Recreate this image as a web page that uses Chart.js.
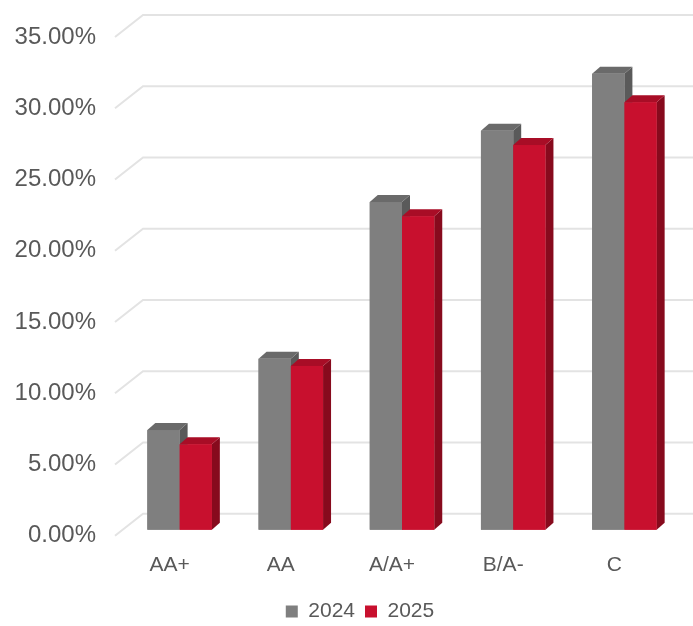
<!DOCTYPE html>
<html>
<head>
<meta charset="utf-8">
<script src="https://cdn.jsdelivr.net/npm/chart.js@4.4.1/dist/chart.umd.min.js"></script>
<style>
  html, body { margin: 0; padding: 0; background: #fff; }
  #wrap { width: 693px; height: 626px; }
</style>
</head>
<body>
<div id="wrap"><canvas id="ratingChart"></canvas></div>
<script>
// Datos del gráfico
const categories = ['AA+', 'AA', 'A/A+', 'B/A-', 'C'];
const values2024 = [7, 12, 23, 28, 32];
const values2025 = [6, 11.5, 22, 27, 30];
const yTicks = [0, 5, 10, 15, 20, 25, 30, 35];

// Colores de las caras (frente, arriba, lado)
const faces = [
    { front: '#7f7f7f', top: '#6a6a6a', side: '#5a5a5a' },
    { front: '#c8102e', top: '#a80d26', side: '#870a1d' }
];
const depth = { dx: 8, dy: 7 };      // profundidad de las barras
const wall = { dx: 19, dy: 16 };     // pared del fondo
const front = { dx: -9, dy: -6 };    // plano de las etiquetas

// Pared de fondo con líneas de cuadrícula en perspectiva + caras 3D
const wallGrid = {
    id: 'wallGrid',
    afterLayout(chart) {
        // la leyenda está un poco a la derecha y abajo en el original
        chart.legend.left += 20;
        chart.legend.right += 20;
        chart.legend.top += 6;
        chart.legend.bottom += 6;
    },
    beforeDatasetsDraw(chart) {
        const { ctx, chartArea, scales } = chart;
        ctx.save();
        ctx.strokeStyle = '#e3e3e3';
        ctx.lineWidth = 2;
        yTicks.forEach(v => {
            const y = scales.y.getPixelForValue(v);
            ctx.beginPath();
            ctx.moveTo(chartArea.left + front.dx, y - front.dy);
            ctx.lineTo(chartArea.left + wall.dx, y - wall.dy);
            ctx.lineTo(chart.width, y - wall.dy);
            ctx.stroke();
        });
        ctx.restore();
    },
    afterDatasetsDraw(chart) {
        const { ctx } = chart;
        ctx.save();
        categories.forEach((c, j) => {
            chart.data.datasets.forEach((ds, i) => {
                const bar = chart.getDatasetMeta(i).data[j];
                const { x, y, base, width } = bar.getProps(['x', 'y', 'base', 'width'], true);
                const l = x - width / 2, r = x + width / 2;
                const f = faces[i];
                // lado
                ctx.fillStyle = f.side;
                ctx.beginPath();
                ctx.moveTo(r, y);
                ctx.lineTo(r + depth.dx, y - depth.dy);
                ctx.lineTo(r + depth.dx, base - depth.dy);
                ctx.lineTo(r, base);
                ctx.closePath();
                ctx.fill();
                // arriba
                ctx.fillStyle = f.top;
                ctx.beginPath();
                ctx.moveTo(l, y);
                ctx.lineTo(l + depth.dx, y - depth.dy);
                ctx.lineTo(r + depth.dx, y - depth.dy);
                ctx.lineTo(r, y);
                ctx.closePath();
                ctx.fill();
                // frente
                ctx.fillStyle = f.front;
                ctx.fillRect(l, y, width, base - y);
            });
        });
        ctx.restore();
    }
};

const ctx = document.getElementById('ratingChart').getContext('2d');
const ratingChart = new Chart(ctx, {
    type: 'bar',
    data: {
        labels: categories,
        datasets: [
            { label: '2024', data: values2024, backgroundColor: faces[0].front, borderWidth: 0 },
            { label: '2025', data: values2025, backgroundColor: faces[1].front, borderWidth: 0 }
        ]
    },
    options: {
        responsive: true,
        maintainAspectRatio: false,
        animation: false,
        layout: { padding: { top: 31, right: 13, left: 0, bottom: 0 } },
        datasets: { bar: { categoryPercentage: 0.58, barPercentage: 1.0 } },
        scales: {
            x: {
                grid: { display: false },
                border: { display: false },
                afterFit(scale) { scale.height -= 8; },
                ticks: {
                    color: '#595959',
                    font: { family: 'Liberation Sans, Arial', size: 21 },
                    padding: 15,
                    labelOffset: -10,
                    maxRotation: 0
                }
            },
            y: {
                min: 0,
                max: 35,
                grid: { display: false },
                border: { display: false },
                afterFit(scale) {
                    scale.width = 124;
                    scale.paddingTop = 0;
                    scale.paddingBottom = 0;
                },
                ticks: {
                    stepSize: 5,
                    color: '#595959',
                    font: { family: 'Liberation Sans, Arial', size: 24 },
                    padding: 20,
                    labelOffset: 6,
                    callback: v => v.toFixed(2) + '%'
                }
            }
        },
        plugins: {
            legend: {
                position: 'bottom',
                labels: {
                    boxWidth: 12,
                    boxHeight: 12,
                    padding: 10,
                    color: '#595959',
                    font: { family: 'Liberation Sans, Arial', size: 21 }
                }
            },
            tooltip: { enabled: false }
        }
    },
    plugins: [wallGrid]
});
</script>
</body>
</html>
